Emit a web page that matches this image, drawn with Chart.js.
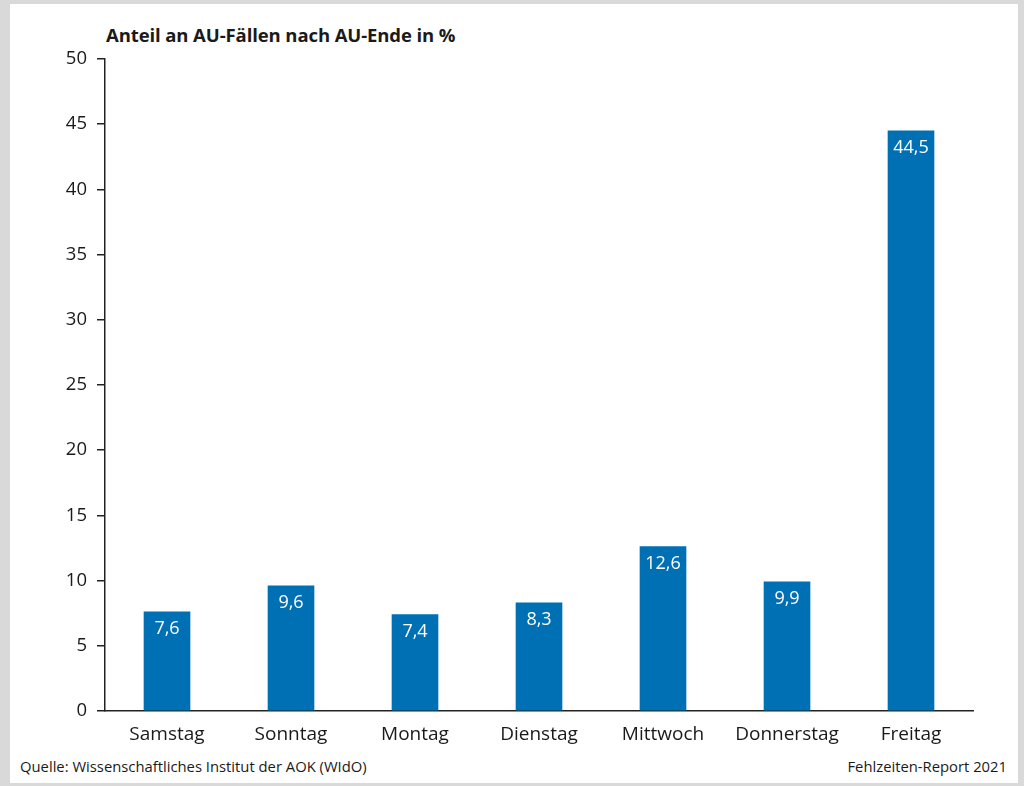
<!DOCTYPE html>
<html>
<head>
<meta charset="utf-8">
<script src="https://cdn.jsdelivr.net/npm/chart.js@4"></script>
<style>
  html, body { margin: 0; padding: 0; background: #d9d9d9; }
  #page { position: relative; width: 1024px; height: 786px; overflow: hidden; }
  #box { position: absolute; left: 10px; top: 4px; width: 1008px; height: 779px; background: #fff; }
  #chart { position: absolute; left: 0; top: 0; }
  .txt { position: absolute; font-family: "Open Sans", sans-serif; color: #1a1a1a; white-space: nowrap; }
  #title { left: 106px; top: 22px; font-size: 18.5px; font-weight: bold; letter-spacing: -0.1px; }
  #source { left: 20px; top: 756px; font-size: 14.8px; }
  #report { right: 17px; top: 756px; font-size: 14.8px; }
</style>
</head>
<body>
<div id="page">
  <div id="box"></div>
  <div id="title" class="txt">Anteil an AU-Fällen nach AU-Ende in %</div>
  <div id="source" class="txt">Quelle: Wissenschaftliches Institut der AOK (WIdO)</div>
  <div id="report" class="txt">Fehlzeiten-Report 2021</div>
  <canvas id="chart" width="1024" height="786"></canvas>
</div>
<script>
// Wochentag des AU-Endes
const days = ["Samstag", "Sonntag", "Montag", "Dienstag", "Mittwoch", "Donnerstag", "Freitag"];
const shares = [7.6, 9.6, 7.4, 8.3, 12.6, 9.9, 44.5];
const yTicks = [0, 5, 10, 15, 20, 25, 30, 35, 40, 45, 50];

const fontFamily = '"Open Sans", sans-serif';
const ink = "#1a1a1a";

// values inside the bar top, German decimal comma
const barLabels = {
  id: "barLabels",
  afterDatasetsDraw(chart) {
    const ctx = chart.ctx;
    const meta = chart.getDatasetMeta(0);
    ctx.save();
    ctx.fillStyle = "#fff";
    ctx.font = "18px " + fontFamily;
    ctx.textAlign = "center";
    ctx.textBaseline = "middle";
    meta.data.forEach((bar, i) => {
      ctx.fillText(shares[i].toFixed(1).replace(".", ","), bar.x, bar.y + 17);
    });
    ctx.restore();
  }
};

new Chart(document.getElementById("chart"), {
  type: "bar",
  data: {
    labels: days,
    datasets: [{
      data: shares,
      backgroundColor: "#0070b4",
      barThickness: 46
    }]
  },
  options: {
    responsive: false,
    animation: false,
    layout: { padding: { left: 0, right: 51, top: 59, bottom: 0 } },
    plugins: { legend: { display: false }, tooltip: { enabled: false } },
    scales: {
      x: {
        grid: { display: false, drawTicks: false },
        border: { color: "#222", width: 1.5 },
        ticks: { color: ink, font: { family: fontFamily, size: 19 }, padding: 12 },
        afterFit(scale) { scale.height = 75; }
      },
      y: {
        min: 0,
        max: 50,
        afterBuildTicks(scale) { scale.ticks = yTicks.map(v => ({ value: v })); },
        grid: { drawOnChartArea: false, tickLength: 8, color: "#222", lineWidth: 1.5 },
        border: { color: "#222", width: 1.5 },
        ticks: { color: ink, font: { family: fontFamily, size: 18.5 }, padding: 10 },
        afterFit(scale) { scale.width = 105; }
      }
    }
  },
  plugins: [barLabels]
});
</script>
</body>
</html>
